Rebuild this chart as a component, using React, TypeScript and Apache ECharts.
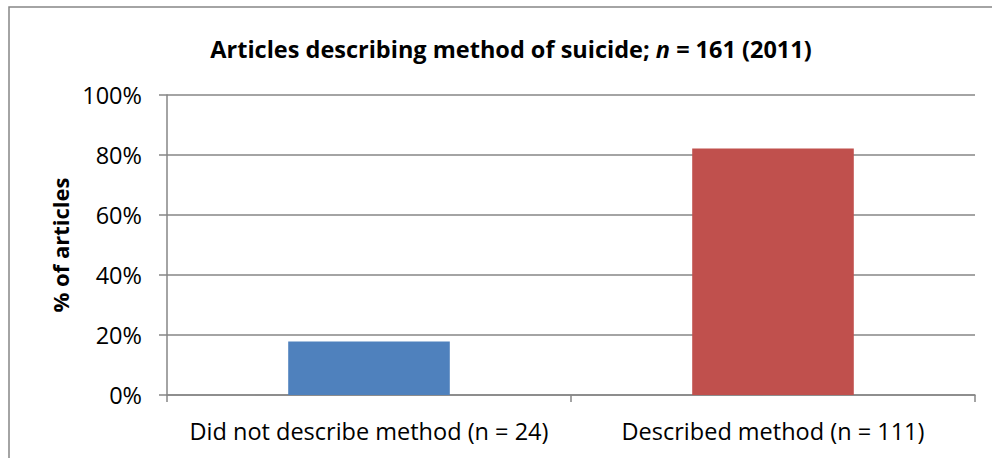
import React, { useEffect, useRef } from "react";
import * as echarts from "echarts";

const categories = ["Did not describe method (n = 24)", "Described method (n = 111)"];
const values = [17.8, 82.2];
const barColors = ["#4F81BD", "#C0504D"];
const yTicks = { min: 0, max: 100, interval: 20 };

export default function App() {
  const ref = useRef<HTMLDivElement>(null);
  useEffect(() => {
    const chart = echarts.init(ref.current!, undefined, { renderer: "svg" });
    const font = "'Open Sans', sans-serif";
    chart.setOption({
      animation: false,
      backgroundColor: "#ffffff",
      textStyle: { fontFamily: font },
      title: {
        text: "Articles describing method of suicide; {i|n =} 161 (2011)",
        left: 506,
        textAlign: "center",
        top: 32,
        textStyle: {
          fontFamily: font,
          fontSize: 23.5,
          fontWeight: "bold",
          color: "#000",
          rich: {
            i: { fontFamily: font, fontSize: 23.5, fontWeight: "bold", fontStyle: "italic", color: "#000" },
          },
        },
      },
      graphic: [
        {
          type: "rect",
          shape: { x: 9, y: 7, width: 1000, height: 470 },
          style: { fill: "none", stroke: "#868686", lineWidth: 1.5 },
          silent: true,
        },
      ],
      grid: { left: 167, right: 17, top: 95, bottom: 63, containLabel: false },
      xAxis: {
        type: "category",
        data: categories,
        axisLine: { show: true, lineStyle: { color: "#868686", width: 1.5 } },
        axisTick: { show: true, length: 7, alignWithLabel: false, lineStyle: { color: "#868686", width: 1.5 } },
        axisLabel: { color: "#000", fontSize: 23.5, margin: 24, interval: 0, fontFamily: font },
      },
      yAxis: {
        type: "value",
        min: yTicks.min,
        max: yTicks.max,
        interval: yTicks.interval,
        name: "% of articles",
        nameLocation: "middle",
        nameGap: 96,
        nameRotate: 90,
        nameTextStyle: { color: "#000", fontSize: 22, fontWeight: "bold", fontFamily: font },
        axisLine: { show: true, lineStyle: { color: "#868686", width: 1.5 } },
        axisTick: { show: true, length: 8, lineStyle: { color: "#868686", width: 1.5 } },
        axisLabel: { color: "#000", fontSize: 23.5, margin: 25, formatter: "{value}%", fontFamily: font },
        splitLine: { show: true, lineStyle: { color: "#868686", width: 1.5 } },
      },
      series: [
        {
          type: "bar",
          data: values.map((v, i) => ({ value: v, itemStyle: { color: barColors[i] } })),
          barWidth: "40%",
        },
      ],
    });
    return () => chart.dispose();
  }, []);
  return <div ref={ref} style={{ position: "absolute", left: 0, top: 0, width: 992, height: 458 }} />;
}
